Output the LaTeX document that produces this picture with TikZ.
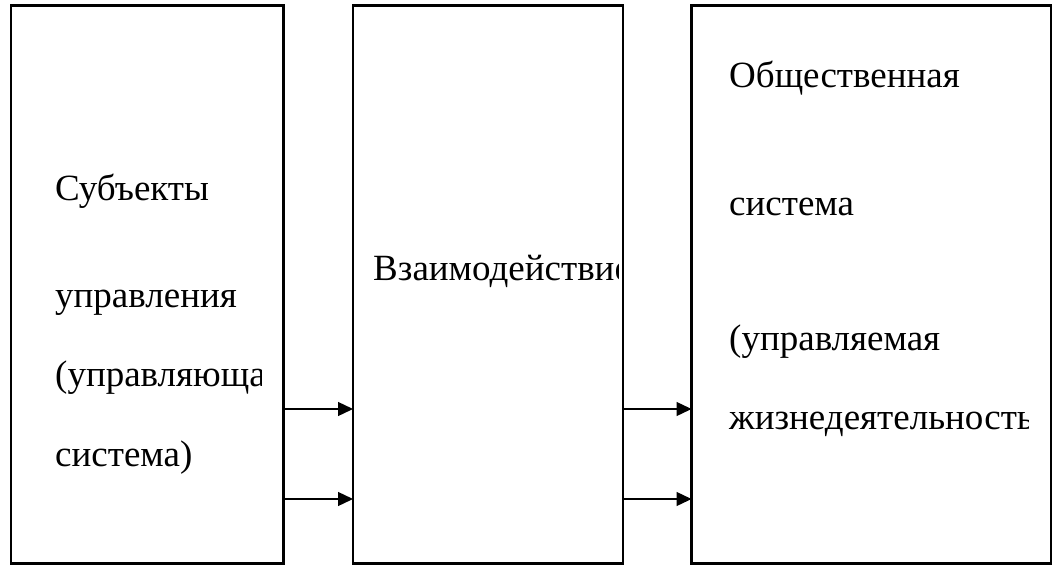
\documentclass[tikz,border=0pt]{standalone}
\usepackage{fontspec}
\setmainfont{Liberation Serif}
\usetikzlibrary{arrows.meta}
\begin{document}
\begin{tikzpicture}[x=1pt,y=1pt,
  box/.style={draw, line width=2.3pt, inner sep=0pt, outer sep=0pt},
  txt/.style={anchor=base west, inner sep=0pt, font=\fontsize{37}{44}\selectfont},
  arr/.style={line width=1.3pt, -{Triangle[length=15pt,width=14pt]}}]
\useasboundingbox (0,0) rectangle (1059,566);
\node[box, minimum width=272.5pt, minimum height=558pt] (b1) at (147.25,281.6) {};
\node[box, minimum width=270pt, minimum height=558pt] (b2) at (488,281.6) {};
\node[box, minimum width=359.5pt, minimum height=558pt] (b3) at (871.25,281.6) {};
\begin{scope}
\clip (b1.south west) rectangle (261,560);
\node[txt] (t1) at (55,366) {Субъекты};
\node[txt] (t2) at (55,259) {управления};
\node[txt] (t3) at (55,180) {(управляющая};
\node[txt] (t4) at (55,100) {система)};
\end{scope}
\begin{scope}
\clip (b2.south west) rectangle (618,560);
\node[txt] (t5) at (373,286) {Взаимодействие};
\end{scope}
\begin{scope}
\clip (b3.south west) rectangle (1028,560);
\node[txt] (t6) at (729,478) {Общественная};
\node[txt] (t7) at (729,351) {система};
\node[txt] (t8) at (729,216) {(управляемая};
\node[txt] (t9) at (729,137) {жизнедеятельность};
\end{scope}
\coordinate (a1s) at (b1.east |- 0,157);
\coordinate (a1e) at (b2.west |- 0,157);
\coordinate (a2s) at (b1.east |- 0,67);
\coordinate (a2e) at (b2.west |- 0,67);
\coordinate (a3s) at (b2.east |- 0,157);
\coordinate (a3e) at (b3.west |- 0,157);
\coordinate (a4s) at (b2.east |- 0,67);
\coordinate (a4e) at (b3.west |- 0,67);
\draw[arr] (a1s) -- (a1e);
\draw[arr] (a2s) -- (a2e);
\draw[arr] (a3s) -- (a3e);
\draw[arr] (a4s) -- (a4e);
\end{tikzpicture}
\end{document}
